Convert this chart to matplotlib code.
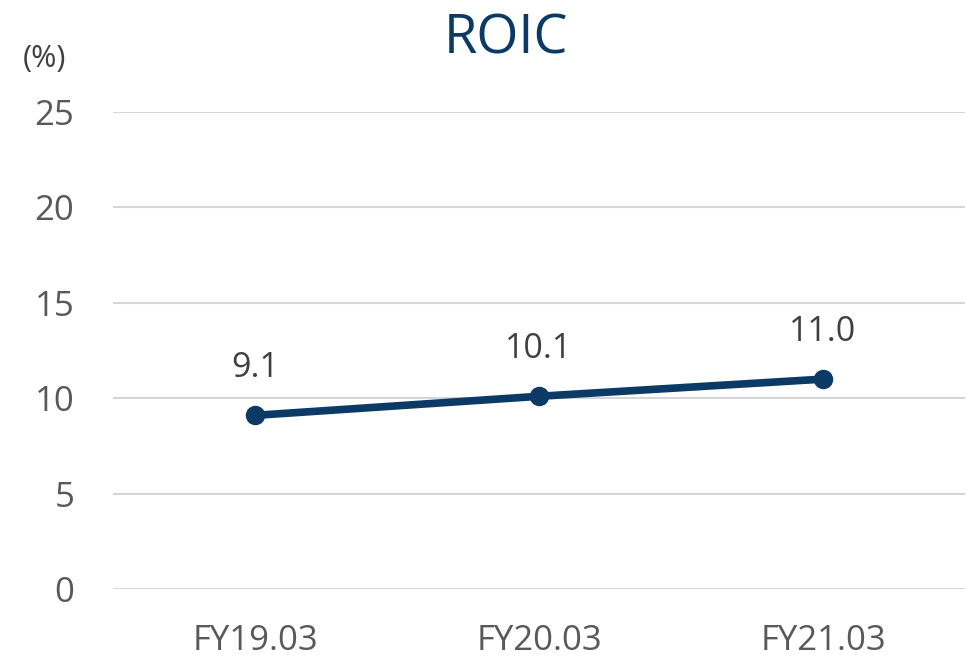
import matplotlib
matplotlib.use('Agg')
from matplotlib import pyplot

# Data
years = ['FY19.03', 'FY20.03', 'FY21.03']
roic = [9.1, 10.1, 11.0]
y_ticks = [0, 5, 10, 15, 20, 25]

navy = '#0b3a66'
pyplot.rcParams['font.family'] = ['Open Sans', 'DejaVu Sans']

fig = pyplot.figure(figsize=(9.66, 6.68), dpi=100)
axes = fig.add_axes([0.117, 0.1183, 0.882, 0.714])

x = [i + 0.5 for i in range(len(years))]
axes.plot(x, roic, color=navy, linewidth=5.5, marker='o', markersize=13,
          solid_capstyle='round', zorder=3)

for xi, v in zip(x, roic):
    axes.annotate('%.1f' % v, xy=(xi, v), xytext=(0, 22), textcoords='offset points',
                  ha='center', va='bottom', fontsize=24.5, color='#404040')

axes.set_xlim(0, len(years))
axes.set_ylim(0, 25)
axes.set_yticks(y_ticks)
axes.set_xticks(x)
axes.set_xticklabels(years)
axes.tick_params(axis='both', length=0, labelsize=25, labelcolor='#595959')
axes.tick_params(axis='y', pad=28)
axes.tick_params(axis='x', pad=25)
axes.grid(True, axis='y', color='#d6d6d6', linewidth=1.5)
axes.set_axisbelow(True)
for s in axes.spines.values():
    s.set_visible(False)

fig.text(0.524, 0.942, 'ROIC', ha='center', va='center', fontsize=39, color='#0b3a66')
fig.text(0.046, 0.912, '(%)', ha='center', va='center', fontsize=22, color='#404040')

pyplot.savefig('out.png')
